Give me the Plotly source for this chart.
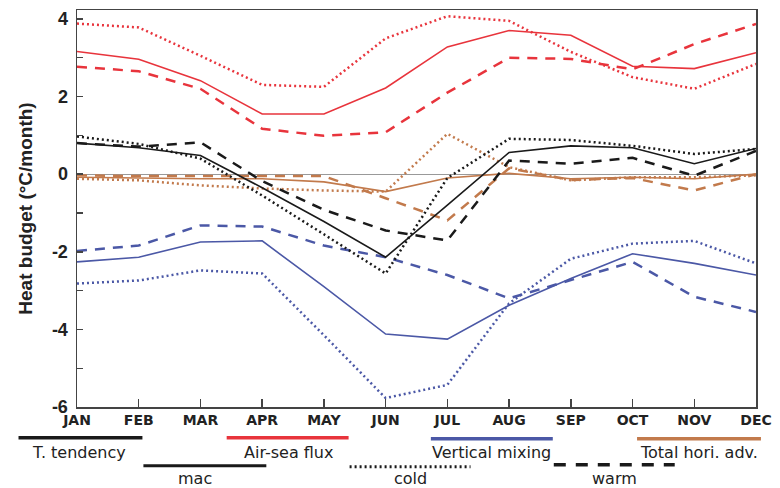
import plotly.graph_objects as go

months = ["JAN", "FEB", "MAR", "APR", "MAY", "JUN", "JUL", "AUG", "SEP", "OCT", "NOV", "DEC"]

# T. tendency
tt_mac = [0.80, 0.68, 0.48, -0.35, -1.22, -2.14, -0.80, 0.56, 0.73, 0.68, 0.27, 0.66]
tt_cold = [0.97, 0.78, 0.40, -0.55, -1.55, -2.56, -0.10, 0.91, 0.88, 0.73, 0.52, 0.65]
tt_warm = [0.80, 0.71, 0.82, -0.18, -0.92, -1.45, -1.71, 0.35, 0.27, 0.42, -0.04, 0.60]

# Air-sea flux
asf_mac = [3.16, 2.96, 2.41, 1.55, 1.55, 2.22, 3.28, 3.70, 3.58, 2.78, 2.72, 3.13]
asf_cold = [3.88, 3.78, 3.05, 2.30, 2.25, 3.50, 4.07, 3.95, 3.15, 2.50, 2.20, 2.84]
asf_warm = [2.77, 2.65, 2.20, 1.17, 0.99, 1.08, 2.10, 3.00, 2.97, 2.70, 3.35, 3.87]

# Vertical mixing
vm_mac = [-2.26, -2.14, -1.75, -1.72, -2.90, -4.12, -4.25, -3.38, -2.69, -2.05, -2.30, -2.60]
vm_cold = [-2.82, -2.74, -2.48, -2.56, -4.15, -5.77, -5.43, -3.33, -2.18, -1.79, -1.72, -2.30]
vm_warm = [-1.98, -1.84, -1.32, -1.35, -1.84, -2.14, -2.60, -3.20, -2.73, -2.26, -3.16, -3.55]

# Total horizontal advection
ha_mac = [-0.08, -0.10, -0.12, -0.12, -0.20, -0.45, -0.10, 0.02, -0.12, -0.08, -0.12, 0.00]
ha_cold = [-0.12, -0.16, -0.29, -0.37, -0.42, -0.45, 1.04, 0.18, -0.16, -0.08, -0.08, -0.03]
ha_warm = [-0.03, -0.05, -0.05, -0.05, -0.05, -0.62, -1.19, 0.15, -0.15, -0.10, -0.42, 0.00]

y_tick_vals = [-6, -4, -2, 0, 2, 4]

RED = "#e8343c"
BLUE = "#4b58a6"
BROWN = "#c27a4c"
BLACK = "#1a1a1a"

DASH = "10px,8px"
DOT = "2px,3px"

series = [
    (ha_mac, BROWN, "solid", 1.6),
    (ha_cold, BROWN, DOT, 2.5),
    (ha_warm, BROWN, DASH, 2.5),
    (asf_mac, RED, "solid", 1.6),
    (asf_cold, RED, DOT, 2.5),
    (asf_warm, RED, DASH, 2.5),
    (vm_mac, BLUE, "solid", 1.6),
    (vm_cold, BLUE, DOT, 2.5),
    (vm_warm, BLUE, DASH, 2.5),
    (tt_mac, BLACK, "solid", 1.6),
    (tt_cold, BLACK, DOT, 2.5),
    (tt_warm, BLACK, DASH, 2.5),
]

fig = go.Figure()
for vals, col, dash, w in series:
    fig.add_trace(go.Scatter(x=months, y=vals, mode="lines",
                             line=dict(color=col, dash=dash, width=w),
                             showlegend=False, hoverinfo="skip"))

# the page body margin is removed (post_script), so the figure starts at (0, 0)
W, H = 780, 488
ML, MR, MT, MB = 77, 18, 8, 81
PW = W - ML - MR
PH = H - MT - MB


def px(x):
    return (x - ML) / PW


def py(y):
    return (H - MB - y) / PH


shapes = []
annotations = []


def key(x0, x1, y, col, dash, width):
    shapes.append(dict(type="line", xref="paper", yref="paper",
                       x0=px(x0), x1=px(x1), y0=py(y), y1=py(y),
                       line=dict(color=col, dash=dash, width=width)))


def label(x, y, text):
    annotations.append(dict(xref="paper", yref="paper", x=px(x), y=py(y),
                            text=text, showarrow=False, xanchor="center", yanchor="middle",
                            font=dict(family="DejaVu Sans", size=16, color="#222")))


key(18, 143, 438, BLACK, "solid", 3.5)
label(79, 453, "T. tendency")
key(228, 351, 438, RED, "solid", 3.5)
label(290, 453, "Air-sea flux")
key(434, 557, 439, BLUE, "solid", 3.5)
label(495, 453, "Vertical mixing")
key(642, 767, 439, BROWN, "solid", 3.5)
label(704, 453, "Total hori. adv.")
key(144, 268, 466, BLACK, "solid", 3)
label(196, 479, "mac")
key(352, 474, 467, BLACK, DOT, 3)
label(413, 479, "cold")
key(558, 680, 465, BLACK, "12px,10px", 3.5)
label(619, 479, "warm")

fig.update_layout(
    width=W, height=H,
    margin=dict(l=ML, r=MR, t=MT, b=MB),
    paper_bgcolor="white", plot_bgcolor="white",
    shapes=shapes, annotations=annotations,
    font=dict(family="Liberation Sans", color="#222"),
    hovermode=False,
)
fig.update_xaxes(
    type="category", range=[0, 11],
    showline=True, linecolor="#444", linewidth=1.5, mirror=True,
    ticks="inside", ticklen=8, tickcolor="#444", tickwidth=1.5,
    showgrid=False, zeroline=False,
    tickfont=dict(family="DejaVu Sans", size=14, weight="bold", color="#222"),
)
fig.update_yaxes(
    range=[-6, 4.23],
    tickvals=y_tick_vals, ticktext=[str(v) for v in y_tick_vals],
    showline=True, linecolor="#444", linewidth=1.5, mirror=True,
    ticks="inside", ticklen=6, tickcolor="#444", tickwidth=1.5,
    minor=dict(dtick=1, tick0=0, ticks="inside", ticklen=6, tickcolor="#444", tickwidth=1.2),
    showgrid=False, zeroline=True, zerolinecolor="#999", zerolinewidth=1.2,
    ticklabelstandoff=4,
    tickfont=dict(family="Liberation Sans", size=18, weight="bold", color="#222"),
    title=dict(text="Heat budget (°C/month)", standoff=14,
               font=dict(family="Liberation Sans", size=19, weight="bold", color="#222")),
)

fig.write_html(
    "out.html",
    config={"displayModeBar": False, "staticPlot": True},
    post_script="document.body.style.margin='0';document.body.style.overflow='hidden';",
)
